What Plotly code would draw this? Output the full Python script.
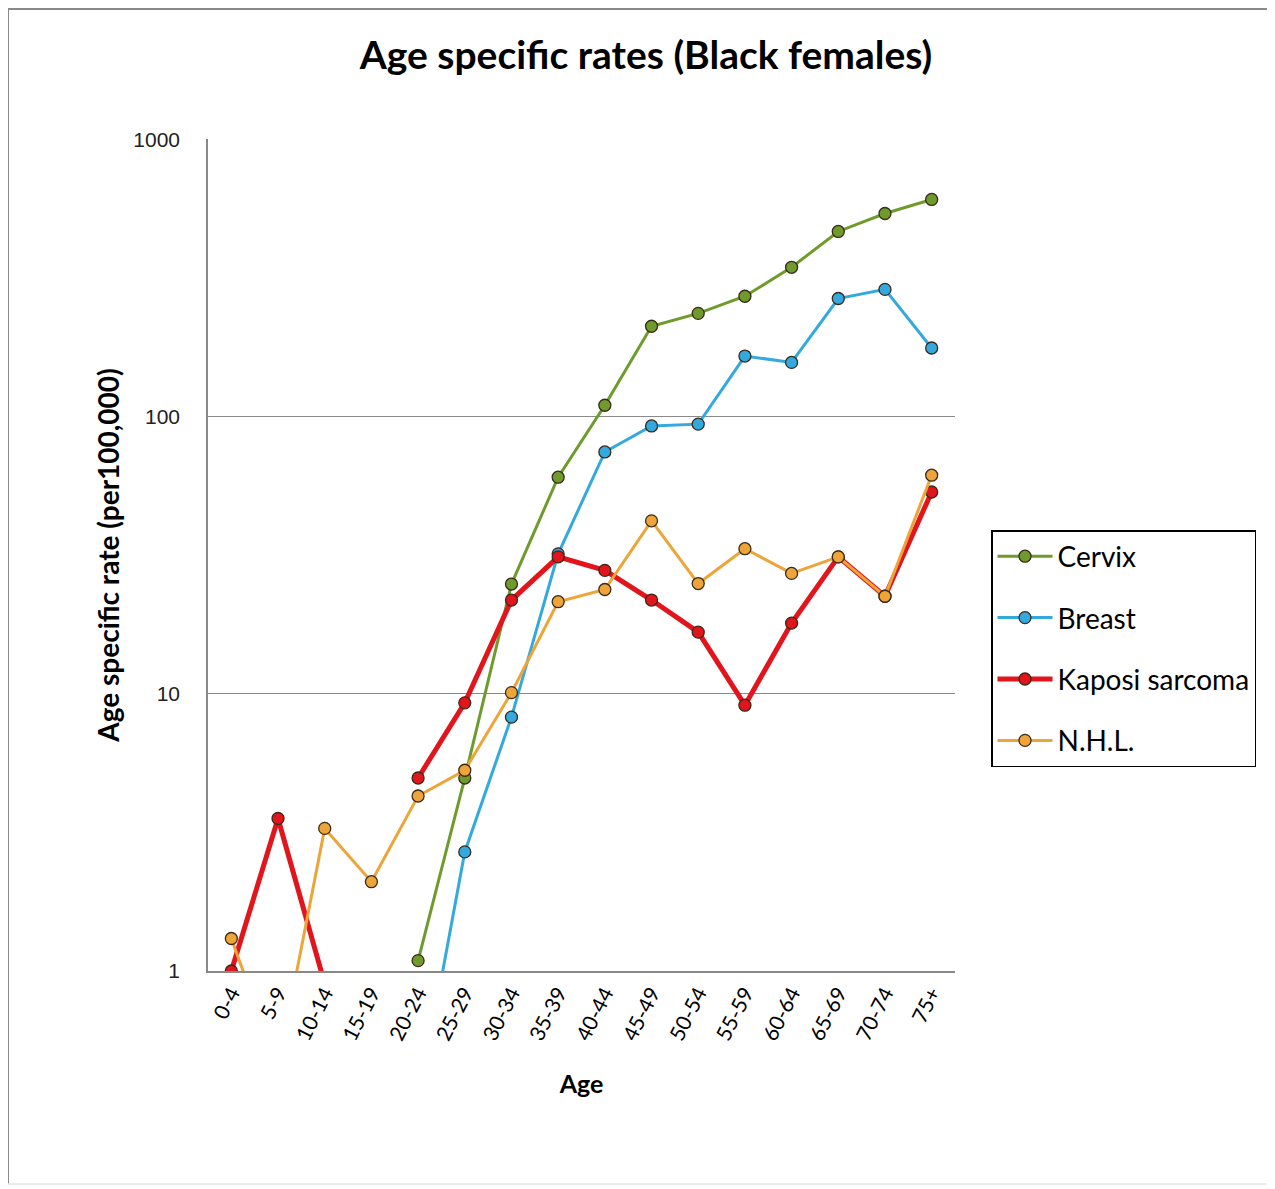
import plotly.graph_objects as go

ages = ["0-4", "5-9", "10-14", "15-19", "20-24", "25-29", "30-34", "35-39",
        "40-44", "45-49", "50-54", "55-59", "60-64", "65-69", "70-74", "75+"]

cervix = [None, None, None, None, 1.09, 4.97, 24.9, 60.5, 110, 212, 236, 272, 346, 466, 541, 608]
breast = [None, None, None, None, 0.33, 2.69, 8.24, 32, 74.6, 92.6, 94, 165.5, 157, 267, 288, 177]
kaposi = [1.0, 3.55, 0.9, None, 4.97, 9.28, 21.8, 31.2, 27.9, 21.8, 16.7, 9.1, 18, 31.2, 22.5, 53.5]
nhl = [1.31, 0.45, 3.27, 2.1, 4.28, 5.3, 10.1, 21.5, 23.8, 42.1, 25, 33.4, 27.2, 31.2, 22.5, 61.5]

series = [
    ("Cervix", cervix, "#6E9B2C", 3),
    ("Breast", breast, "#33A9DD", 3),
    ("Kaposi sarcoma", kaposi, "#E2141C", 5),
    ("N.H.L.", nhl, "#EDA53A", 3),
]

fig = go.Figure()
for i, (name, vals, color, w) in enumerate(series):
    fig.add_trace(go.Scatter(
        x=ages, y=vals, name=name, mode="lines+markers",
        line=dict(color=color, width=w),
        marker=dict(size=12, color=color, line=dict(color="#3a2a1a", width=1.3)),
        legendgroup=f"g{i}",
        connectgaps=False,
    ))

# page has an 8px body margin: figure coordinates = screen coordinates - 8
OFF = 8
W, H = 1275 - OFF, 1189 - OFF
L, R, T, B = 208 - OFF, 955 - OFF, 139 - OFF, 971 - OFF


def px(x):
    return (x - OFF - L) / (R - L)


def py(y):
    return (B - (y - OFF)) / (B - T)


fig.update_layout(
    width=W, height=H,
    margin=dict(l=L, r=W - R, t=T, b=H - B, autoexpand=False),
    paper_bgcolor="white", plot_bgcolor="white",
    font=dict(family="Lato, 'Liberation Sans', sans-serif", color="#000"),
    title=dict(text="<b>Age specific rates (Black females)</b>",
               x=(646 - OFF) / W, xanchor="center", y=1 - (55 - OFF) / H, yanchor="middle",
               font=dict(size=39, family="Lato", color="#000")),
    showlegend=True,
    legend=dict(x=px(991), y=py(530),
                xanchor="left", yanchor="top",
                bordercolor="#000", borderwidth=1.5, bgcolor="white",
                font=dict(size=28, family="Lato", color="#000"),
                tracegroupgap=22, itemwidth=55),
    xaxis=dict(
        type="category", range=[-0.5, 15.5],
        showgrid=False, showline=True, linecolor="#888", linewidth=1.5,
        tickangle=-63, tickfont=dict(size=21, family="Lato", color="#000"),
        title=dict(text="<b>Age</b>", font=dict(size=25, family="Lato", color="#000"), standoff=32),
    ),
    yaxis=dict(
        type="log", range=[0, 3.002],
        tickvals=[1, 10, 100, 1000], ticktext=["1", "10", "100", "1000"],
        showgrid=True, gridcolor="#8a8a8a", gridwidth=1.2,
        showline=True, linecolor="#888", linewidth=1.5,
        tickfont=dict(size=21, family="Liberation Sans", color="#222"),
        ticklabelstandoff=22,
        title=dict(text="<b>Age specific rate (per100,000)</b>",
                   font=dict(size=28, family="Lato", color="#000"), standoff=6),
    ),
    shapes=[
        dict(type="line", xref="paper", yref="paper",
             x0=px(8), x1=px(1300), y0=py(9), y1=py(9),
             line=dict(color="#8a8a8a", width=2)),
        dict(type="line", xref="paper", yref="paper",
             x0=px(8), x1=px(8), y0=py(9), y1=py(1184),
             line=dict(color="#8a8a8a", width=2)),
        dict(type="line", xref="paper", yref="paper",
             x0=px(8), x1=px(1300), y0=py(1184), y1=py(1184),
             line=dict(color="#e6e6e6", width=1.5)),
    ],
)

fig.write_html("out.html")
